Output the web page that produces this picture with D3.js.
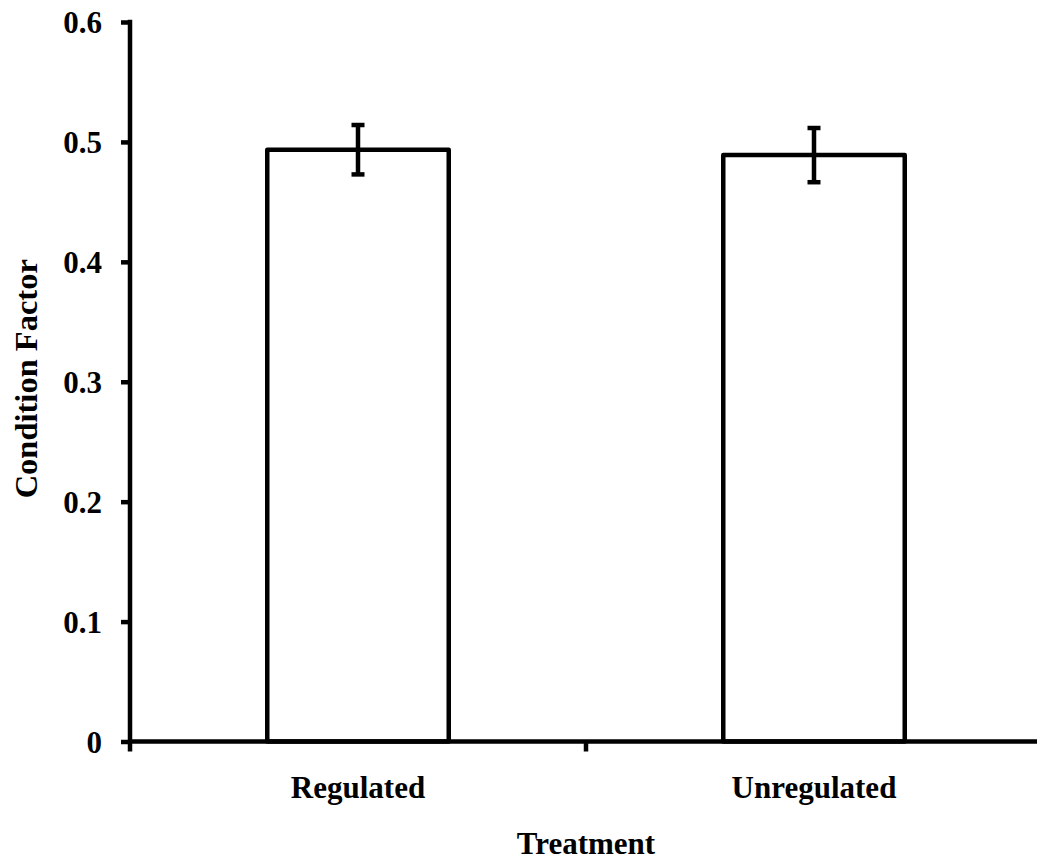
<!DOCTYPE html>
<html>
<head>
<meta charset="utf-8">
<script src="https://cdn.jsdelivr.net/npm/d3@7"></script>
<style>
  html, body { margin: 0; padding: 0; background: #fff; overflow: hidden; }
  text { font-family: "Liberation Serif", "Times New Roman", serif; font-weight: bold; fill: #000; }
</style>
</head>
<body>
<svg id="chart" width="1037" height="863"></svg>
<script>
const categories = ["Regulated", "Unregulated"];
const means = [0.4935, 0.4890];
const errors = [0.0206, 0.0226];
const yTicks = [0, 0.1, 0.2, 0.3, 0.4, 0.5, 0.6];
const xTitle = "Treatment";
const yTitle = "Condition Factor";

const svg = d3.select("#chart");
const SW = 4.5;
const FS = 31;

const y = d3.scaleLinear().domain([0, 0.6]).range([741.5, 22]);
const x = d3.scaleBand().domain(categories).range([130, 1042])
  .paddingInner(0.602).paddingOuter(0.301);

const data = categories.map((c, i) => ({ c, m: means[i], e: errors[i] }));

// bars
svg.append("g").selectAll("rect").data(data).join("rect")
  .attr("x", d => x(d.c))
  .attr("y", d => y(d.m))
  .attr("width", x.bandwidth())
  .attr("height", d => y(0) - y(d.m))
  .attr("fill", "#fff")
  .attr("stroke", "#000")
  .attr("stroke-width", SW)
  .attr("stroke-linejoin", "round");

// error bars
const eb = svg.append("g").attr("stroke", "#000").attr("stroke-width", SW);
data.forEach(d => {
  const cx = x(d.c) + x.bandwidth() / 2;
  eb.append("line").attr("x1", cx).attr("x2", cx).attr("y1", y(d.m + d.e)).attr("y2", y(d.m - d.e));
  [d.m + d.e, d.m - d.e].forEach(v => {
    eb.append("line").attr("x1", cx - 6.5).attr("x2", cx + 6.5).attr("y1", y(v)).attr("y2", y(v));
  });
});

// y axis
const yAxis = svg.append("g").attr("transform", `translate(130,0)`)
  .call(d3.axisLeft(y).tickValues(yTicks).tickSize(9).tickSizeOuter(0).tickPadding(19)
    .tickFormat(d => d === 0 ? "0" : d3.format(".1f")(d)));
yAxis.selectAll("path, line").attr("stroke", "#000").attr("stroke-width", SW);
yAxis.select(".domain").remove();
yAxis.append("line").attr("x1", 0).attr("x2", 0).attr("y1", y(0.6) - SW / 2).attr("y2", y(0))
  .attr("stroke", "#000").attr("stroke-width", SW);
yAxis.selectAll("text").attr("font-size", FS).attr("font-family", "Liberation Serif")
  .attr("font-weight", "bold").attr("dy", "0.34em");

// x axis
const x0 = x.range()[0], x1 = x.range()[1];
const xa = svg.append("g").attr("stroke", "#000").attr("stroke-width", SW);
xa.append("line").attr("x1", x0).attr("x2", x1).attr("y1", y(0)).attr("y2", y(0));
d3.range(categories.length + 1).forEach(i => {
  const bx = x0 + i * x.step();
  xa.append("line").attr("x1", bx).attr("x2", bx).attr("y1", y(0)).attr("y2", y(0) + 10);
});

svg.append("g").selectAll("text").data(categories).join("text")
  .attr("x", c => x(c) + x.bandwidth() / 2)
  .attr("y", 798)
  .attr("text-anchor", "middle")
  .attr("font-size", FS)
  .text(c => c);

// titles
svg.append("text").attr("x", (x0 + x1) / 2).attr("y", 854).attr("text-anchor", "middle")
  .attr("font-size", FS).text(xTitle);
svg.append("text").attr("transform", `translate(37,${(y(0) + y(0.6)) / 2 - 3}) rotate(-90)`)
  .attr("text-anchor", "middle").attr("font-size", 32.5).text(yTitle);
</script>
</body>
</html>
